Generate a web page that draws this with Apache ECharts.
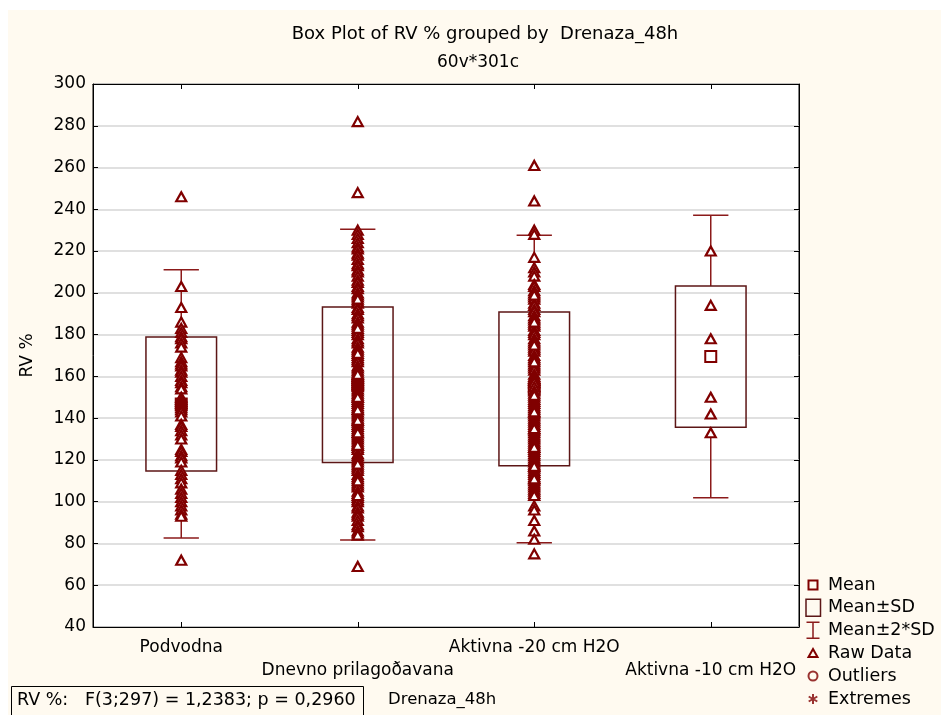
<!DOCTYPE html>
<html>
<head>
<meta charset="utf-8">
<script src="https://cdn.jsdelivr.net/npm/echarts@6/dist/echarts.min.js"></script>
<style>html,body{margin:0;padding:0;background:#fff;}#c{width:941px;height:715px;}</style>
</head>
<body>
<div id="c"></div>
<script>
const categories = ['Podvodna', 'Dnevno prilagoðavana', 'Aktivna -20 cm H2O', 'Aktivna -10 cm H2O'];
const yTicks = [40, 300, 20];
const means = [146.8, 156.0, 154.0, 169.5];
const sds = [32.1, 37.2, 36.8, 33.8];

const rawPodvodna = [246, 203, 193, 186, 183, 181, 179, 178, 176, 174, 169, 167, 166, 165, 163, 162, 160, 158, 157, 155,
  154, 150, 149, 148, 147, 146, 145, 144, 143, 141, 137, 136, 134, 132, 130, 125, 124, 122, 121, 119,
  115, 113, 111, 109, 106, 104, 102, 100, 98, 96, 94, 93, 72];
const rawDnevno = [282, 248, 230, 228, 226, 224, 222, 221, 219, 218, 216, 214, 213, 211, 210, 208, 206, 205, 203, 202,
  200, 199, 198, 196, 195, 193, 192, 190, 189, 188, 186, 185, 184, 182, 181, 180, 178, 177, 176, 174,
  173, 172, 170, 169, 168, 167, 165, 164, 163, 162, 160, 159, 158, 157, 156, 155, 154, 153, 152, 151,
  150, 149, 148, 147, 146, 145, 144, 143, 142, 141, 140, 139, 138, 137, 136, 135, 134, 133, 132, 131,
  130, 129, 128, 127, 126, 125, 123, 122, 121, 120, 119, 117, 116, 115, 113, 112, 111, 109, 108, 107,
  105, 104, 102, 101, 100, 98, 97, 95, 94, 93, 91, 89, 88, 86, 85, 84, 69,
  197, 183, 171, 161, 150, 144, 139, 133, 127, 118, 110, 103];
const rawAktivna20 = [261, 244, 230, 228, 217, 212, 210, 208, 204, 203, 201, 200, 198, 197, 195, 194, 192, 191, 189, 188,
  187, 185, 184, 182, 181, 180, 178, 177, 176, 174, 173, 172, 170, 169, 168, 166, 165, 164, 163, 161,
  160, 159, 158, 157, 155, 153, 152, 150, 149, 148, 147, 146, 145, 144, 143, 142, 141, 140, 139,
  138, 137, 136, 135, 134, 133, 132, 131, 130, 129, 128, 127, 126, 125, 124, 123, 122, 121, 120, 119,
  118, 117, 116, 115, 114, 113, 112, 111, 110, 109, 108, 107, 106, 105, 104, 103, 98, 96, 91, 86, 82, 75,
  199, 186, 175, 167, 151, 143, 135, 126, 117, 111];
const rawAktivna10 = [220, 194, 178, 150, 142, 133];

const FONT = 'DejaVu Sans';
const DARK = '#800000';

const rawGroups = [rawPodvodna, rawDnevno, rawAktivna20, rawAktivna10];
const rawData = [];
rawGroups.forEach((arr, i) => arr.forEach(v => rawData.push([i, v])));
const statData = means.map((m, i) => [i, m, sds[i]]);
const meanData = means.map((m, i) => [i, m]);

function renderBox(params, api) {
  const i = api.value(0), m = api.value(1), s = api.value(2);
  const top = api.coord([i, m + s]), bot = api.coord([i, m - s]);
  const w = api.size([1, 0])[0] * 0.40;
  return {
    type: 'rect',
    shape: { x: top[0] - w / 2, y: top[1], width: w, height: bot[1] - top[1] },
    style: { fill: 'none', stroke: '#5c1616', lineWidth: 1.5 }
  };
}
function renderWhisker(params, api) {
  const i = api.value(0), m = api.value(1), s = api.value(2);
  const t1 = api.coord([i, m + s]), t2 = api.coord([i, m + 2 * s]);
  const b1 = api.coord([i, m - s]), b2 = api.coord([i, m - 2 * s]);
  const cw = api.size([1, 0])[0] * 0.20;
  const st = { stroke: '#8b1a1a', lineWidth: 1.5 };
  return {
    type: 'group',
    children: [
      { type: 'line', shape: { x1: t1[0], y1: t1[1], x2: t2[0], y2: t2[1] }, style: st },
      { type: 'line', shape: { x1: b1[0], y1: b1[1], x2: b2[0], y2: b2[1] }, style: st },
      { type: 'line', shape: { x1: t2[0] - cw / 2, y1: t2[1], x2: t2[0] + cw / 2, y2: t2[1] }, style: st },
      { type: 'line', shape: { x1: b2[0] - cw / 2, y1: b2[1], x2: b2[0] + cw / 2, y2: b2[1] }, style: st }
    ]
  };
}

const iconStyle = { color: 'transparent', borderColor: DARK, borderWidth: 2 };
const chart = echarts.init(document.getElementById('c'), null, { renderer: 'canvas' });
chart.setOption({
  backgroundColor: '#FFFAF0',
  animation: false,
  textStyle: { fontFamily: FONT },
  graphic: [
    { type: 'rect', left: 0, top: 0, shape: { width: 941, height: 10 }, style: { fill: '#fff' }, silent: true },
    { type: 'rect', left: 0, top: 0, shape: { width: 8, height: 715 }, style: { fill: '#fff' }, silent: true },
    { type: 'text', x: 485, y: 34, style: { text: 'Box Plot of RV % grouped by  Drenaza_48h', fontFamily: FONT, fontSize: 18, fill: '#000', textAlign: 'center', textVerticalAlign: 'middle' } },
    { type: 'text', x: 478, y: 63, style: { text: '60v*301c', fontFamily: FONT, fontSize: 17, fill: '#000', textAlign: 'center', textVerticalAlign: 'middle' } },
    { type: 'rect', shape: { x: 11.5, y: 686.5, width: 352, height: 40 }, style: { fill: 'none', stroke: '#000', lineWidth: 1 }, silent: true },
    { type: 'text', x: 17, y: 700, style: { text: 'RV %:   F(3;297) = 1,2383; p = 0,2960', fontFamily: FONT, fontSize: 17.5, fill: '#000', textVerticalAlign: 'middle' } },
    { type: 'text', x: 388, y: 700, style: { text: 'Drenaza_48h', fontFamily: FONT, fontSize: 16.5, fill: '#000', textVerticalAlign: 'middle' } }
  ],
  grid: { left: 93, top: 84, width: 706, height: 543, show: true, backgroundColor: '#fff', borderColor: '#000', borderWidth: 1 },
  legend: {
    orient: 'vertical', left: 803, top: 575, height: 200, padding: 0,
    itemWidth: 18, itemHeight: 18, itemGap: 3, selectedMode: false,
    textStyle: { fontFamily: FONT, fontSize: 17.5, lineHeight: 18, color: '#000', padding: [0, 0, 0, 1] },
    data: [
      { name: 'Mean', icon: 'path://M0 0M18 18M4.5 4.5L13.5 4.5L13.5 13.5L4.5 13.5Z', itemStyle: iconStyle },
      { name: 'Mean±SD', icon: 'path://M0 0M18 18M2 0.5L16.5 0.5L16.5 17.5L2 17.5Z', itemStyle: { color: 'transparent', borderColor: '#5c1616', borderWidth: 1.5 } },
      { name: 'Mean±2*SD', icon: 'path://M0 0M18 18M2.5 1L15.5 1M9 1L9 17M2.5 17L15.5 17', itemStyle: { color: 'transparent', borderColor: '#8b1a1a', borderWidth: 1.5 } },
      { name: 'Raw Data', icon: 'path://M0 0M18 18M9 5L13.5 13L4.5 13Z', itemStyle: iconStyle },
      { name: 'Outliers', icon: 'path://M0 0M18 18M13.5 9A4.5 4.5 0 1 1 4.5 9A4.5 4.5 0 1 1 13.5 9Z', itemStyle: iconStyle },
      { name: 'Extremes', icon: 'path://M0 0M18 18M9 4L9 14M4.7 6.5L13.3 11.5M4.7 11.5L13.3 6.5', itemStyle: iconStyle }
    ]
  },
  xAxis: [{
    type: 'category', data: categories, boundaryGap: true,
    axisLine: { show: true, lineStyle: { color: '#000', width: 1 } },
    axisTick: { show: true, inside: true, alignWithLabel: true, length: 5, lineStyle: { color: '#000' } },
    axisLabel: {
      interval: 0, color: '#000', fontFamily: FONT, fontSize: 17, lineHeight: 23, margin: 9,
      formatter: (v, idx) => (idx % 2 ? '\n' + v : v)
    },
    splitLine: { show: false }
  }, {
    type: 'category', data: categories, position: 'top', boundaryGap: true,
    axisLine: { show: true, lineStyle: { color: '#000' } },
    axisTick: { show: true, inside: true, alignWithLabel: true, length: 5, lineStyle: { color: '#000' } },
    axisLabel: { show: false }, splitLine: { show: false }
  }],
  yAxis: [{
    type: 'value', min: yTicks[0], max: yTicks[1], interval: yTicks[2],
    name: 'RV %', nameLocation: 'middle', nameGap: 57, nameRotate: 90,
    nameTextStyle: { color: '#000', fontFamily: FONT, fontSize: 17 },
    axisLine: { show: true, lineStyle: { color: '#000', width: 1 } },
    axisTick: { show: true, inside: true, length: 5, lineStyle: { color: '#000' } },
    axisLabel: { color: '#000', fontFamily: FONT, fontSize: 17, margin: 7 },
    splitLine: { show: true, lineStyle: { color: '#d6d6d6', width: 1.5 } }
  }, {
    type: 'value', min: yTicks[0], max: yTicks[1], interval: yTicks[2], position: 'right',
    axisLine: { show: true, lineStyle: { color: '#000' } },
    axisTick: { show: true, inside: true, length: 5, lineStyle: { color: '#000' } },
    axisLabel: { show: false }, splitLine: { show: false }
  }],
  series: [
    { name: 'Mean±2*SD', type: 'custom', renderItem: renderWhisker, data: statData, encode: { x: 0, y: 1 }, z: 2, itemStyle: { color: '#8b1a1a' } },
    { name: 'Mean±SD', type: 'custom', renderItem: renderBox, data: statData, encode: { x: 0, y: 1 }, z: 2, itemStyle: { color: '#5c1616' } },
    { name: 'Mean', type: 'scatter', data: meanData, symbol: 'rect', symbolSize: 11, z: 3,
      itemStyle: { color: '#fff', borderColor: DARK, borderWidth: 2, opacity: 1 } },
    { name: 'Raw Data', type: 'scatter', data: rawData, symbol: 'triangle', symbolSize: [10, 9], z: 4,
      itemStyle: { color: '#fff', borderColor: DARK, borderWidth: 2.2, opacity: 1 } },
    { name: 'Outliers', type: 'scatter', data: [], symbol: 'circle', itemStyle: { color: '#fff', borderColor: DARK } },
    { name: 'Extremes', type: 'scatter', data: [], itemStyle: { color: DARK } }
  ]
});
</script>
</body>
</html>
